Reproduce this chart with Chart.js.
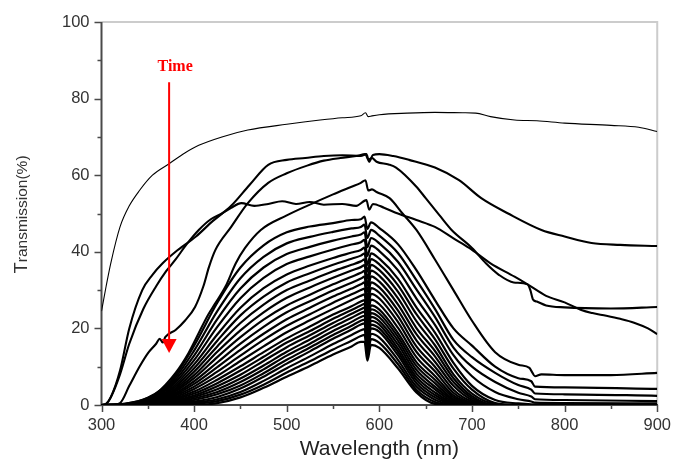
<!DOCTYPE html>
<html>
<head>
<meta charset="utf-8">
<script src="https://cdn.jsdelivr.net/npm/chart.js@4.4.0/dist/chart.umd.min.js"></script>
<style>
  html, body { margin: 0; padding: 0; background: #fff; }
  canvas { display: block; }
</style>
</head>
<body>
<canvas id="chart" width="682" height="462"></canvas>
<script>
// ---- data (wavelength nm / transmission %) ----

// thin top curve
const thinTopX = [300, 305, 310, 320, 330, 341, 355, 373, 390, 405, 430, 458, 500, 536, 560, 580, 585, 588, 592, 600, 630, 660, 690, 704, 720, 746, 770, 800, 850, 880, 900];
const thinTopY = [24.5, 31, 37, 46.5, 52, 56, 60, 63, 65.8, 67.8, 70, 71.8, 73.3, 74.4, 75, 75.5, 76.3, 75.3, 75.5, 75.8, 76.2, 76.4, 76.3, 76.2, 75.3, 74.4, 74.2, 73.6, 73, 72.5, 71.4];

// early riser, 65% plateau, slow tail to ~41%
const plateauAX = [300, 305, 310, 320, 330, 344, 355, 366, 380, 402, 420, 440, 460, 480, 500, 520, 540, 560, 580, 586, 589, 593, 600, 615, 632, 660, 686, 710, 739, 775, 800, 829, 860, 900];
const plateauAY = [0, 0.3, 2, 9, 20, 30, 34, 37, 40, 44, 48, 52, 57.5, 62.7, 64, 64.5, 65, 65.2, 65, 65.5, 63.5, 65.3, 65.5, 65, 64, 62, 58.7, 54, 50, 45.7, 44, 42.3, 41.8, 41.5];

// wavy curve around 53%, tail to ~18%
const wavyX = [300, 305, 310, 320, 330, 345, 359, 370, 380, 392, 405, 418, 430, 440, 451, 465, 480, 495, 510, 525, 540, 560, 575, 586, 589, 593, 605, 620, 640, 660, 680, 697, 720, 746, 760, 780, 800, 818, 830, 845, 860, 875, 890, 900];
const wavyY = [0, 0.3, 2, 8, 16, 25, 31, 35, 38, 42, 45.7, 48.5, 50, 51.5, 52.7, 52, 52.5, 53.2, 52.5, 53, 52.3, 52.5, 52, 53.5, 51, 52.5, 51.5, 50, 48.3, 46.5, 43.5, 41, 37, 33.5, 31.5, 28.5, 26.8, 24.8, 24, 23.3, 22.5, 21.5, 20, 18.5];

// curve with the kink near 365 nm, 65% plateau, steep fall to ~25%
const plateauBX = [300, 310, 320, 330, 341, 350, 359, 363, 366, 369, 380, 390, 401, 410, 416, 423, 440, 458, 480, 500, 522, 540, 558, 575, 585, 588, 592, 597, 610, 618, 640, 650, 665, 678, 700, 715, 729, 745, 760, 763, 766, 770, 780, 800, 850, 900];
const plateauBY = [0, 0, 0.5, 5, 10, 13.5, 16, 17.3, 16.3, 17.8, 19.6, 22, 25.6, 31, 36, 40.5, 46.5, 52.7, 58, 60.5, 62.5, 63.8, 64.5, 65, 65.5, 64, 64.5, 63.5, 62.8, 62, 57, 54, 49.5, 45.7, 41, 37, 34, 32, 31.5, 30, 27.5, 27, 26, 25.5, 25.2, 25.6];

// curve peaking near 58%, tail to ~8%
const peak58X = [300, 320, 340, 359, 380, 394, 405, 415, 423, 434, 445, 455, 472, 500, 522, 550, 570, 580, 585, 588, 592, 597, 611, 625, 640, 660, 680, 700, 725, 750, 762, 765, 768, 775, 800, 850, 900];
const peak58Y = [0, 0, 0.5, 3, 8.4, 13.6, 18.8, 23.5, 26.6, 31, 37, 41, 45.7, 49.5, 52, 55, 57, 58, 58.7, 56, 56.3, 55.6, 54, 50, 45.7, 38, 30, 22, 13.8, 10.5, 9.7, 8.5, 7.5, 8, 7.8, 7.8, 8.4];

// dense bundle of later curves, all on one wavelength grid
const bundleX = [300, 325, 350, 375, 400, 425, 450, 475, 500, 525, 550, 570, 580, 584, 587, 591, 600, 620, 640, 660, 680, 700, 725, 750, 764, 768, 800, 900];
const bundle01 = [0, 0.3, 1.9, 6.3, 15.5, 26.7, 35.9, 41.7, 45.1, 46.6, 47.5, 48.3, 48.5, 49.2, 46, 47.7, 46.2, 42, 35.2, 27.4, 20, 15.5, 10, 7, 6.2, 4.8, 4.6, 4.2];
const bundle02 = [0, 0.3, 1.8, 5.8, 14.2, 24.5, 33.1, 38.7, 42.2, 43.9, 45.2, 46.1, 46.5, 47.1, 43.6, 45.7, 44.2, 39.7, 32.6, 25.1, 17, 12.5, 8.4, 5.2, 4, 3, 2.8, 2.4];
const bundle03 = [0, 0.2, 1.6, 5.3, 12.9, 22.4, 30.4, 35.9, 39.4, 41.3, 42.9, 44, 44.5, 45.1, 41.2, 43.6, 42.2, 37.4, 30.2, 23, 15, 10, 6, 3.2, 2.2, 1.5, 1.3, 1.0];
const bundle04 = [0, 0.2, 1.5, 4.8, 11.7, 20.4, 27.9, 33.2, 36.8, 38.8, 40.6, 41.9, 42.5, 43.1, 38.9, 41.6, 40.2, 35.2, 27.8, 20.9, 13, 7.5, 3.4, 1.5, 0.9, 0.6, 0.5, 0.4];
const bundle05 = [0, 0.1, 1.3, 4.3, 10.6, 18.4, 25.4, 30.5, 34.1, 36.4, 38.4, 39.8, 40.5, 41.1, 36.6, 39.6, 38.2, 33, 25.5, 18.9, 11, 5, 1.3, 0.4, 0.2, 0.2, 0.1, 0];
const bundle06 = [0, 0.1, 1.2, 3.9, 9.6, 16.8, 23.4, 28.3, 32, 34.4, 36.6, 38.2, 39, 39.6, 34.8, 38.1, 36.7, 31.3, 23.7, 17.2, 9.5, 4, 0.5, 0, 0, 0, 0, 0];
const bundle07 = [0, 0.1, 1.1, 3.5, 8.7, 15.3, 21.4, 26.2, 30, 32.5, 34.9, 36.6, 37.5, 38, 33, 36.6, 35.2, 29.6, 21.9, 15.6, 8, 3, 0.3, 0, 0, 0, 0, 0];
const bundle08 = [0, 0, 1.0, 3.2, 7.8, 13.9, 19.5, 24.2, 28, 30.7, 33.2, 35.1, 36, 36.5, 31.3, 35.1, 33.7, 27.9, 20.1, 14.1, 7, 2.3, 0, 0, 0, 0, 0, 0];
const bundle09 = [0, 0, 0.9, 2.9, 7, 12.5, 17.7, 22.3, 26, 28.8, 31.5, 33.5, 34.5, 35, 29.6, 33.6, 32.2, 26.3, 18.5, 12.7, 6, 1.8, 0, 0, 0, 0, 0, 0];
const bundle10 = [0, 0, 0.8, 2.5, 6.2, 11.1, 16, 20.4, 24.2, 27.1, 29.9, 31.9, 33, 33.5, 27.9, 32, 30.7, 24.7, 16.9, 11.3, 5, 1.3, 0, 0, 0, 0, 0, 0];
const bundle11 = [0, 0, 0.7, 2.2, 5.5, 9.9, 14.4, 18.6, 22.4, 25.4, 28.3, 30.4, 31.5, 32, 26.3, 30.5, 29.3, 23.2, 15.3, 10, 4, 0.9, 0, 0, 0, 0, 0, 0];
const bundle12 = [0, 0, 0.6, 2, 4.8, 8.7, 12.9, 17, 20.7, 23.7, 26.7, 28.9, 30, 30.4, 24.7, 29, 27.8, 21.7, 13.9, 8.8, 3.2, 0.6, 0, 0, 0, 0, 0, 0];
const bundle13 = [0, 0, 0.5, 1.7, 4.2, 7.6, 11.5, 15.3, 19, 22.1, 25.1, 27.4, 28.5, 28.9, 23.2, 27.5, 26.3, 20.2, 12.5, 7.6, 2.5, 0.4, 0, 0, 0, 0, 0, 0];
const bundle14 = [0, 0, 0.4, 1.4, 3.5, 6.6, 10.1, 13.8, 17.4, 20.5, 23.6, 25.8, 27, 27.4, 21.6, 26, 24.9, 18.8, 11.2, 6.6, 2, 0.3, 0, 0, 0, 0, 0, 0];
const bundle15 = [0, 0, 0.4, 1.2, 3, 5.7, 9, 12.6, 16.3, 19.3, 22.5, 24.8, 26, 26.4, 20.6, 25, 23.9, 17.8, 10.2, 5.7, 1.5, 0.2, 0, 0, 0, 0, 0, 0];
const bundle16 = [0, 0, 0.3, 1, 2.5, 4.9, 7.9, 11.5, 15.1, 18.2, 21.4, 23.8, 25, 25.4, 19.5, 24, 22.9, 16.8, 9.2, 4.8, 1.2, 0.1, 0, 0, 0, 0, 0, 0];
const bundle17 = [0, 0, 0.3, 0.9, 2.1, 4.1, 6.9, 10.3, 13.9, 17.1, 20.4, 22.8, 24, 24.4, 18.4, 23, 21.9, 15.8, 8.2, 4.1, 0.8, 0, 0, 0, 0, 0, 0, 0];
const bundle18 = [0, 0, 0.2, 0.7, 1.7, 3.4, 6, 9.3, 12.9, 16, 19.3, 21.7, 23, 23.3, 17.4, 22, 21, 14.8, 7.3, 3.3, 0.5, 0, 0, 0, 0, 0, 0, 0];
const bundle19 = [0, 0, 0.2, 0.5, 1.3, 2.8, 5.1, 8.3, 11.8, 15, 18.3, 20.7, 22, 22.3, 16.4, 21, 20, 13.9, 6.5, 2.6, 0.3, 0, 0, 0, 0, 0, 0, 0];
const bundle20 = [0, 0, 0.1, 0.4, 0.9, 2.1, 4.3, 7.4, 10.8, 14, 17.3, 19.7, 21, 21.3, 15.4, 20, 19.1, 13, 5.7, 2, 0.2, 0, 0, 0, 0, 0, 0, 0];
const bundle21 = [0, 0, 0.1, 0.2, 0.6, 1.5, 3.4, 6.3, 9.6, 12.7, 15.9, 18.3, 19.5, 19.8, 14.1, 18.6, 17.6, 11.8, 4.8, 1.4, 0.1, 0, 0, 0, 0, 0, 0, 0];
const bundle22 = [0, 0, 0, 0.1, 0.3, 1, 2.7, 5.3, 8.5, 11.4, 14.5, 16.8, 18, 18.3, 12.8, 17.2, 16.2, 10.7, 4, 0.8, 0, 0, 0, 0, 0, 0, 0, 0];
const bundle23 = [0, 0, 0, 0, 0, 0.5, 2, 4.5, 7.4, 10.2, 13.2, 15.3, 16.5, 16.5, 11.6, 15.7, 14.9, 9.6, 3.3, 0.3, 0, 0, 0, 0, 0, 0, 0, 0];

// axes
const xMin = 300, xMax = 900, xMajorStep = 100, xMinorStep = 50;
const yMin = 0, yMax = 100, yMajorStep = 20, yMinorStep = 10;

// "Time" arrow annotation, in data units
const arrowWavelength = 373;
const arrowFrom = 84.3;
const arrowTo = 13.6;
const arrowLabel = 'Time';
const arrowLabelAt = { x: 379.5, y: 87.3 };

// ---- build datasets ----
function pairs(xs, ys) {
    return xs.map((x, i) => ({ x: x, y: ys[i] }));
}

const datasets = [];
function addCurve(xs, ys, width) {
    datasets.push({
        data: pairs(xs, ys),
        borderColor: '#000',
        borderWidth: width,
        pointRadius: 0,
        fill: false,
        cubicInterpolationMode: 'monotone'
    });
}

const bundle = [bundle01, bundle02, bundle03, bundle04, bundle05, bundle06, bundle07, bundle08,
    bundle09, bundle10, bundle11, bundle12, bundle13, bundle14, bundle15, bundle16,
    bundle17, bundle18, bundle19, bundle20, bundle21, bundle22, bundle23];
for (const b of bundle) addCurve(bundleX, b, 2.2);
addCurve(peak58X, peak58Y, 2.1);
addCurve(plateauBX, plateauBY, 2.1);
addCurve(wavyX, wavyY, 2.1);
addCurve(plateauAX, plateauAY, 2.1);
addCurve(thinTopX, thinTopY, 1.1);

// axis frame, minor ticks, y title and the red arrow
const decor = {
    id: 'decor',
    beforeDatasetsDraw(chart) {
        const { ctx, chartArea: a, scales } = chart;
        const x = scales.x, y = scales.y;
        ctx.save();
        ctx.lineWidth = 2;
        ctx.strokeStyle = '#cccccc';
        ctx.beginPath();
        ctx.moveTo(a.left, a.top); ctx.lineTo(a.right, a.top); ctx.lineTo(a.right, a.bottom);
        ctx.stroke();
        ctx.strokeStyle = '#4a4a4a';
        ctx.beginPath();
        ctx.moveTo(a.left, a.top); ctx.lineTo(a.left, a.bottom); ctx.lineTo(a.right, a.bottom);
        ctx.stroke();

        ctx.lineWidth = 1.5;
        ctx.beginPath();
        for (let v = yMin; v <= yMax; v += yMinorStep) {
            const py = Math.round(y.getPixelForValue(v)) + 0.5;
            const len = v % yMajorStep === 0 ? 7 : 4;
            ctx.moveTo(a.left - len, py); ctx.lineTo(a.left, py);
        }
        for (let v = xMin; v <= xMax; v += xMinorStep) {
            const px = Math.round(x.getPixelForValue(v)) + 0.5;
            const len = v % xMajorStep === 0 ? 7 : 4;
            ctx.moveTo(px, a.bottom); ctx.lineTo(px, a.bottom + len);
        }
        ctx.stroke();
        ctx.restore();
    },
    afterDraw(chart) {
        const { ctx, chartArea: a, scales } = chart;
        const x = scales.x, y = scales.y;
        ctx.save();

        // y title with the larger leading capital
        const cy = (a.top + a.bottom) / 2 + 1;
        ctx.translate(27, cy);
        ctx.rotate(-Math.PI / 2);
        ctx.fillStyle = '#333';
        ctx.textBaseline = 'alphabetic';
        const big = '18.5px "Liberation Sans", Arial, sans-serif';
        const small = '15.5px "Liberation Sans", Arial, sans-serif';
        ctx.font = big;
        const wT = ctx.measureText('T').width;
        ctx.font = small;
        const wRest = ctx.measureText('ransmission(%)').width;
        const start = -(wT + wRest) / 2;
        ctx.font = big;
        ctx.fillText('T', start, 0);
        ctx.font = small;
        ctx.fillText('ransmission(%)', start + wT, 0);
        ctx.setTransform(1, 0, 0, 1, 0, 0);

        // red arrow
        const ax = x.getPixelForValue(arrowWavelength);
        const y0 = y.getPixelForValue(arrowFrom);
        const y1 = y.getPixelForValue(arrowTo);
        ctx.strokeStyle = '#ff0000';
        ctx.fillStyle = '#ff0000';
        ctx.lineWidth = 2;
        ctx.beginPath();
        ctx.moveTo(ax, y0); ctx.lineTo(ax, y1 - 12);
        ctx.stroke();
        ctx.beginPath();
        ctx.moveTo(ax - 7.5, y1 - 14); ctx.lineTo(ax + 7.5, y1 - 14); ctx.lineTo(ax, y1);
        ctx.closePath();
        ctx.fill();

        ctx.font = 'bold 16px "Liberation Serif", "Times New Roman", serif';
        ctx.textAlign = 'center';
        ctx.textBaseline = 'alphabetic';
        ctx.fillText(arrowLabel, x.getPixelForValue(arrowLabelAt.x), y.getPixelForValue(arrowLabelAt.y));
        ctx.restore();
    }
};

const tickFont = { family: '"Liberation Sans", Arial, sans-serif', size: 16.5 };

new Chart(document.getElementById('chart'), {
    type: 'line',
    data: { datasets: datasets },
    options: {
        responsive: false,
        animation: false,
        devicePixelRatio: 1,
        layout: { padding: { top: 22, right: 18, left: 0, bottom: 0 } },
        plugins: { legend: { display: false }, tooltip: { enabled: false } },
        scales: {
            x: {
                type: 'linear', min: xMin, max: xMax,
                grid: { display: false, drawTicks: false }, border: { display: false },
                ticks: { stepSize: xMajorStep, padding: 11, color: '#333', font: tickFont },
                title: {
                    display: true, text: 'Wavelength (nm)', color: '#222', padding: 0,
                    font: { family: '"Liberation Sans", Arial, sans-serif', size: 21 }
                },
                afterFit: s => { s.height = 57; }
            },
            y: {
                min: yMin, max: yMax,
                grid: { display: false, drawTicks: false }, border: { display: false },
                ticks: { stepSize: yMajorStep, padding: 12, color: '#333', font: tickFont },
                afterFit: s => { s.width = 101.5; }
            }
        }
    },
    plugins: [decor]
});
</script>
</body>
</html>
